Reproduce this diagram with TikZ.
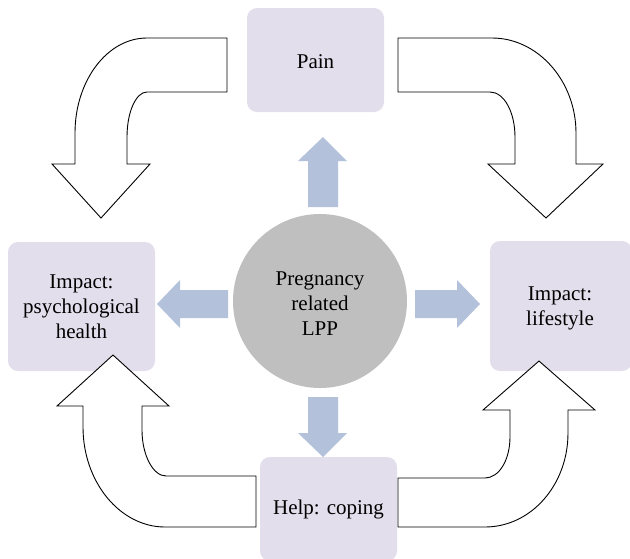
\documentclass[tikz,border=0pt]{standalone}
\usepackage{fontspec}
\setmainfont{Liberation Serif}
\definecolor{boxfill}{RGB}{227,222,235}
\definecolor{circfill}{RGB}{191,191,191}
\definecolor{blueArr}{RGB}{179,193,218}
\tikzset{
  topicbox/.style={fill=boxfill, rounded corners=10pt, inner sep=0pt, align=center,
    font=\fontsize{21}{25}\selectfont},
  lbl/.style={inner sep=0pt, align=center, font=\fontsize{21}{25}\selectfont},
  bigarrow/.style={draw=black, fill=white, line width=0.9pt, line join=miter},
  smallarrow/.style={fill=blueArr, draw=none},
}
\begin{document}
\begin{tikzpicture}[x=1pt,y=-1pt]
\useasboundingbox (0,0) rectangle (630,558);
\clip (0,0) rectangle (630,558);
% boxes
\node[topicbox, minimum width=137pt, minimum height=104pt] (pain) at (315.5,60) {};
\node[lbl] (painlbl) at (315.5,62) {Pain};
\node[topicbox, minimum width=147pt, minimum height=129pt] (psych) at (81.5,306.5) {Impact:\\psychological\\health};
\node[topicbox, minimum width=142pt, minimum height=130pt] (life) at (561,306) {};
\node[lbl] (lifelbl) at (560,308) {Impact:\\lifestyle};
\node[topicbox, minimum width=137pt, minimum height=104pt] (help) at (328.5,509) {Help: coping};
\node[circle, fill=circfill, minimum size=174pt, inner sep=0pt] (lpp) at (320,301) {};
\node[lbl] (lpplbl) at (320,304) {Pregnancy\\related\\LPP};
% small blue arrows
\fill[smallarrow] (308,207) -- (338,207) -- (338,161) -- (347,161) -- (323,137) -- (298,161) -- (308,161) -- cycle;
\fill[smallarrow] (308,397) -- (338,397) -- (338,433) -- (347,433) -- (323,457) -- (298,433) -- (308,433) -- cycle;
\fill[smallarrow] (228,290) -- (228,318) -- (180,318) -- (180,328) -- (157,304) -- (180,280) -- (180,290) -- cycle;
\fill[smallarrow] (415,290) -- (415,318) -- (457,318) -- (457,328) -- (480,304) -- (457,280) -- (457,290) -- cycle;
% big curved arrows
\draw[bigarrow] (227,38) -- (147,38) .. controls (107,38) and (75,81) .. (75,133) -- (75,164) -- (52,164) -- (101,218) -- (150,164) -- (127,164) -- (127,137) .. controls (127,112) and (136,92) .. (147,92) -- (227,92) -- cycle;
\draw[bigarrow] (398,38) -- (492,38) .. controls (538,38) and (576,81) .. (576,133) -- (576,164) -- (603,164) -- (546,218) -- (488,164) -- (515,164) -- (515,137) .. controls (515,112) and (504,92) .. (490,92) -- (398,92) -- cycle;
\draw[bigarrow] (256,527) -- (165,527) .. controls (120,527) and (83,482) .. (83,427) -- (83,406) -- (57,406) -- (113,355) -- (169,406) -- (142,406) -- (142,430) .. controls (142,455) and (153,476) .. (166,476) -- (256,476) -- cycle;
\draw[bigarrow] (398,478) -- (485,478) .. controls (499,478) and (510,460) .. (510,437) -- (510,410) -- (483,410) -- (539,361) -- (595,410) -- (568,410) -- (568,433) .. controls (568,485) and (531,527) .. (485,527) -- (398,527) -- cycle;
\end{tikzpicture}
\end{document}
